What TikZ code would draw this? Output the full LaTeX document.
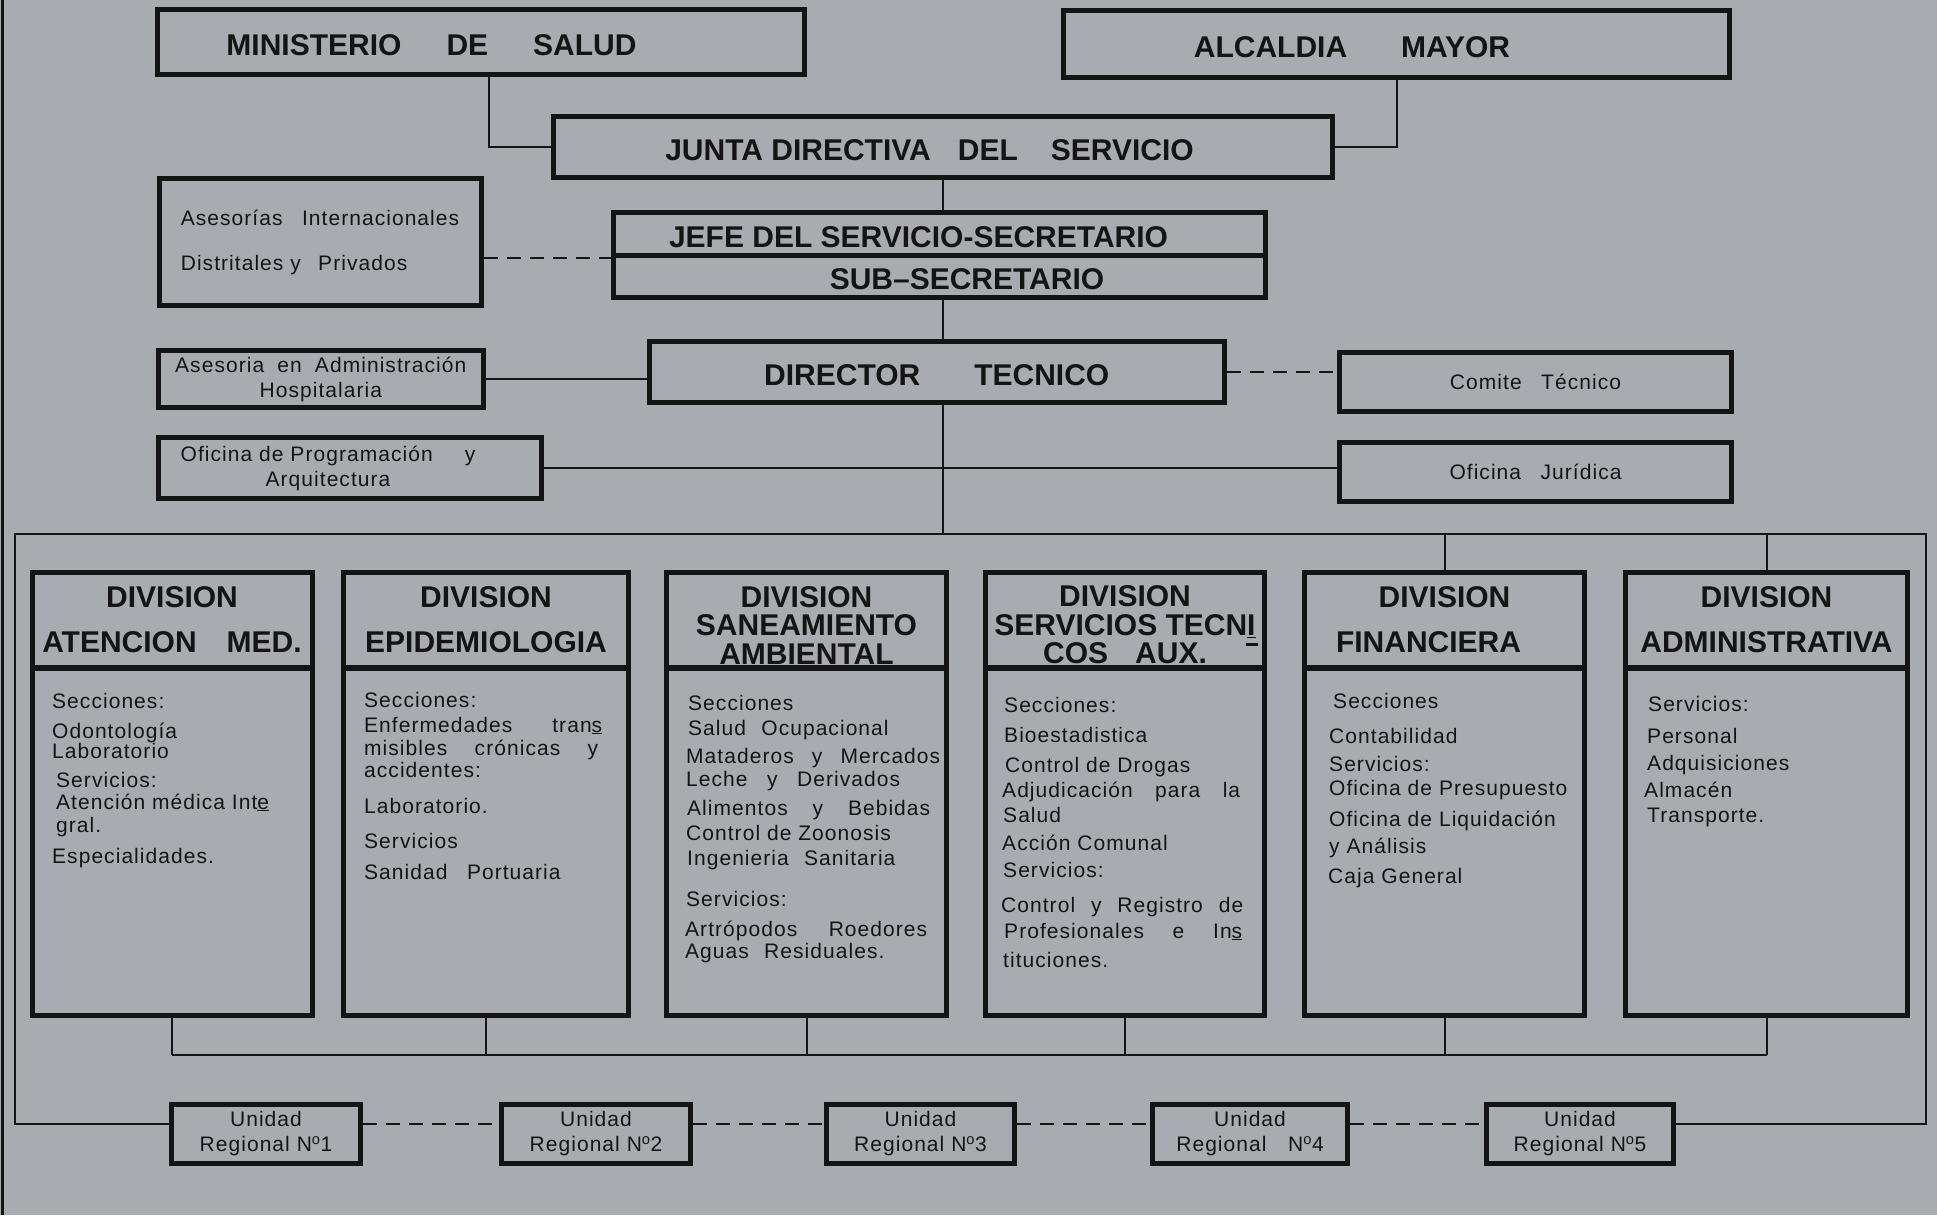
\documentclass[tikz,border=0pt]{standalone}
\usepackage{fontspec}
\setmainfont{Liberation Sans}
\newfontfamily\spacedfont[LetterSpace=5]{Liberation Sans}

\definecolor{paper}{RGB}{168,172,177}
\definecolor{ink}{RGB}{20,20,20}

\newcommand{\gapw}[1]{\hspace{#1em}}

\tikzset{
	box/.style={draw=ink, line width=5pt, inner sep=0pt},
	conn/.style={draw=ink, line width=2pt},
	dashconn/.style={conn, dash pattern=on 14pt off 9pt},
	bigtitle/.style={font=\fontsize{30}{34}\selectfont\bfseries, text height=27pt, text depth=0pt},
	divtitle/.style={font=\fontsize{30}{45}\selectfont\bfseries, align=center},
	divtight/.style={font=\fontsize{30}{28.5}\selectfont\bfseries, align=center},
	smalltext/.style={font=\spacedfont\fontsize{21}{25}\selectfont},
	bodytext/.style={font=\spacedfont\fontsize{21}{23}\selectfont, inner sep=0pt}
}

\begin{document}
\begin{tikzpicture}[x=1pt, y=-1pt, text=ink]

	\path[use as bounding box, fill=paper] (0,0) rectangle (1937,1215);
	\draw[ink, line width=3pt] (2,0) -- (2,1215);

	% upper levels
	\node[box, bigtitle, minimum width=647pt, minimum height=64pt] (minis) at (481,42) {MINISTERIO\gapw{1.5}DE\gapw{1.5}SALUD\hspace*{99pt}};
	\node[box, bigtitle, minimum width=666pt, minimum height=66.5pt] (alc) at (1396.5,44) {ALCALDIA\gapw{1.8}MAYOR\hspace*{89pt}};
	\node[box, bigtitle, minimum width=779pt, minimum height=61pt] (junta) at (943,146.5) {JUNTA DIRECTIVA\gapw{0.9}DEL\gapw{1.1}SERVICIO\hspace*{27pt}};
	\node[box, bigtitle, minimum width=652pt, minimum height=43pt] (jefe) at (939.5,234) {JEFE DEL SERVICIO-SECRETARIO\hspace*{42pt}};
	\node[box, bigtitle, minimum width=652pt, minimum height=41.5pt] (sub) at (939.5,276.25) {\hspace*{55pt}SUB--SECRETARIO};
	\node[box, bigtitle, minimum width=575.5pt, minimum height=60.5pt] (dir) at (936.8,371.8) {DIRECTOR\gapw{1.8}TECNICO};

	% staff boxes
	\node[box, smalltext, align=left, minimum width=322pt, minimum height=127.7pt] (ases) at (320,242) {Asesorías\gapw{0.6} Internacionales\\[20pt]Distritales y\gapw{0.5} Privados};
	\node[box, smalltext, align=center, minimum width=324.5pt, minimum height=57.7pt] (asadm) at (320.8,379) {Asesoria\gapw{0.3} en\gapw{0.3} Administración\\Hospitalaria};
	\node[box, smalltext, align=center, minimum width=383.5pt, minimum height=60.5pt] (ofprog) at (350,468) {Oficina de Programación\gapw{1.2} y\hspace*{44pt}\\Arquitectura\hspace*{44pt}};
	\node[box, smalltext, minimum width=392pt, minimum height=59.5pt] (comite) at (1535.5,381.8) {Comite\gapw{0.6} Técnico};
	\node[box, smalltext, minimum width=392pt, minimum height=58.5pt] (ofjur) at (1535.5,471.8) {Oficina\gapw{0.6} Jurídica};

	% divisions
	\node[box, divtitle, minimum width=280pt, minimum height=95.5pt] (d1h) at (172,620) {DIVISION\\ATENCION\gapw{1.0}MED.};
	\node[box, divtitle, minimum width=285pt, minimum height=95.5pt] (d2h) at (486,620) {DIVISION\\EPIDEMIOLOGIA};
	\node[box, divtight, minimum width=280pt, minimum height=95.5pt] (d3h) at (806.5,620) {\rule{0pt}{31pt}DIVISION\\SANEAMIENTO\\AMBIENTAL};
	\node[box, divtight, minimum width=279pt, minimum height=95.5pt] (d4h) at (1125,620) {\rule{0pt}{31pt}DIVISION\\SERVICIOS TECN\underline{I}\\COS\gapw{0.9}AUX.\rlap{\hspace{1.3em}\raisebox{0.6em}{\rule{0.4em}{2.5pt}}}};
	\node[box, divtitle, minimum width=280pt, minimum height=95.5pt] (d5h) at (1444.5,620) {DIVISION\\FINANCIERA\hspace*{32pt}};
	\node[box, divtitle, minimum width=282pt, minimum height=95.5pt] (d6h) at (1766.5,620) {DIVISION\\ADMINISTRATIVA};
	\foreach \n/\cx/\w in {d1/172/280, d2/486/285, d3/806.5/280, d4/1125/279, d5/1444.5/280, d6/1766.5/282}
	{
		\node[box, minimum width=\w pt, minimum height=347.5pt] (\n) at (\cx,841.75) {};
	}

	% division contents
	\foreach \x/\y/\t [count=\i] in {
		52/708/Secciones:, 52/738/Odontología, 52/758/Laboratorio, 56/787/Servicios:,
		56/809/Atención médica Int\underline{e}, 56/832/gral., 52/863/Especialidades.,
		364/707/Secciones:, 364/732/\makebox[238pt][s]{Enfermedades tran\underline{s}},
		364/755/\makebox[234pt][s]{misibles crónicas y}, 364/777/accidentes:,
		364/813/Laboratorio., 364/848/Servicios, 364/879/Sanidad\gapw{0.6} Portuaria,
		688/710/Secciones, 688/735/Salud\gapw{0.4} Ocupacional,
		686/763/\makebox[254pt][s]{Mataderos y Mercados}, 686/786/\makebox[214pt][s]{Leche y Derivados},
		687/815/\makebox[243pt][s]{Alimentos y Bebidas}, 686/840/Control de Zoonosis,
		687/865/Ingenieria\gapw{0.4} Sanitaria, 686/906/Servicios:,
		685/936/\makebox[242pt][s]{Artrópodos Roedores}, 685/958/Aguas\gapw{0.4} Residuales.,
		1004/712/Secciones:, 1004/742/Bioestadistica, 1005/772/Control de Drogas,
		1002/797/\makebox[238pt][s]{Adjudicación para la}, 1003/822/Salud, 1002/850/Acción Comunal,
		1003/877/Servicios:, 1001/912/\makebox[242pt][s]{Control y Registro de},
		1004/938/\makebox[238pt][s]{Profesionales e In\underline{s}}, 1003/967/tituciones.,
		1333/708/Secciones, 1329/743/Contabilidad, 1329/771/Servicios:,
		1329/795/Oficina de Presupuesto, 1329/826/Oficina de Liquidación,
		1329/853/y Análisis, 1328/883/Caja General,
		1648/711/Servicios:, 1647/743/Personal, 1647/770/Adquisiciones,
		1644/797/Almacén, 1647/822/Transporte.}
	{
		\node[bodytext, anchor=base west] (ln\i) at (\x,\y) {\t};
	}

	% regional units
	\foreach \n/\cx/\w/\lab in {u1/266/189/{N\textsuperscript{o}1}, u2/596/189/{N\textsuperscript{o}2},
		u3/920.5/188/{N\textsuperscript{o}3}, u4/1250/195/{\gapw{0.7}N\textsuperscript{o}4},
		u5/1580/187/{N\textsuperscript{o}5}}
	{
		\node[box, smalltext, align=center, minimum width=\w pt, minimum height=59pt] (\n) at (\cx,1134) {Unidad\\Regional \lab};
	}

	% links
	\coordinate (trunk) at (943,0);
	\coordinate (fl) at (15,534);
	\coordinate (fr) at (1926,534);
	\coordinate (bus) at (0,1055);
	\coordinate (row) at (0,1124);
	\draw[conn] (junta.west) -| ([xshift=8pt]minis.south);
	\draw[conn] (junta.east) -| (alc.south);
	\draw[conn] (trunk |- junta.south) -- (trunk |- jefe.north);
	\draw[conn] (trunk |- sub.south) -- (trunk |- dir.north);
	\draw[conn] (trunk |- dir.south) -- (trunk |- fl);
	\draw[dashconn] (ases.east |- jefe.south) -- (jefe.south west);
	\draw[conn] (asadm.east) -- (asadm.east -| dir.west);
	\draw[dashconn] (dir.east) -- (dir.east -| comite.west);
	\draw[conn] (ofprog.east) -- (ofprog.east -| ofjur.west);
	\draw[conn] (u1.west |- row) -| (fl) -- (fr) |- (u5.east |- row);
	\draw[conn] (d5h.north |- fl) -- (d5h.north);
	\draw[conn] (d6h.north |- fl) -- (d6h.north);
	\foreach \n in {d1,d2,d3,d4,d5,d6}
	{
		\draw[conn] (\n.south) -- (\n.south |- bus);
	}
	\draw[conn] (d1.south |- bus) -- (d6.south |- bus);
	\foreach \a/\b in {u1/u2,u2/u3,u3/u4,u4/u5}
	{
		\draw[dashconn] (\a.east |- row) -- (\b.west |- row);
	}

\end{tikzpicture}
\end{document}
